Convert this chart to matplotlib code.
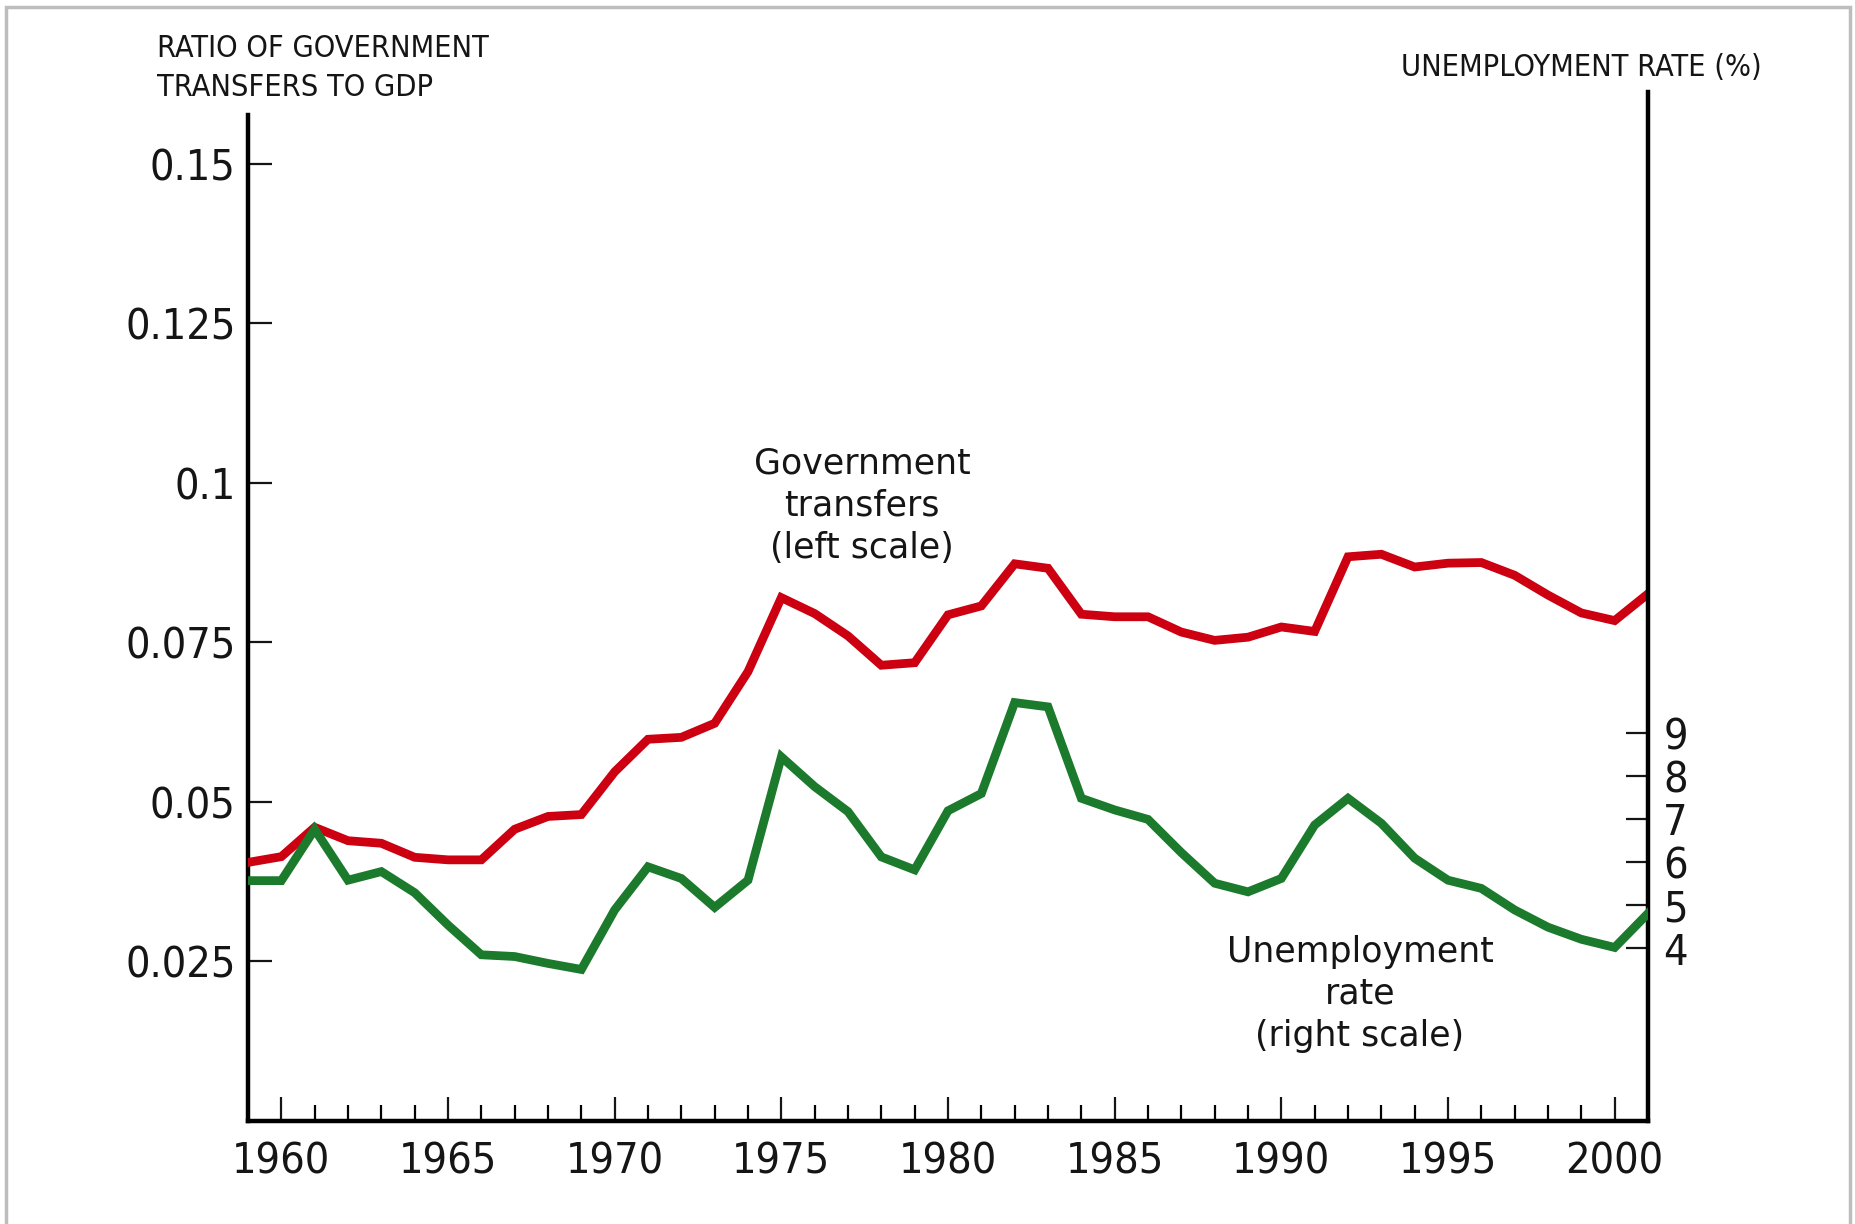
import matplotlib
matplotlib.use("Agg")
import matplotlib.pyplot as plt
from matplotlib.ticker import FixedLocator, NullFormatter
from matplotlib.patches import Rectangle
from matplotlib import font_manager as fm

years = list(range(1959, 2002))
transfers = [0.0405, 0.0414, 0.0460, 0.0439, 0.0435, 0.0413, 0.0409, 0.0409, 0.0457, 0.0477,
             0.0480, 0.0547, 0.0598, 0.0601, 0.0623, 0.0704, 0.0820, 0.0795, 0.0760, 0.0714,
             0.0718, 0.0793, 0.0807, 0.0873, 0.0866, 0.0794, 0.0790, 0.0790, 0.0766, 0.0753,
             0.0758, 0.0774, 0.0767, 0.0884, 0.0888, 0.0868, 0.0874, 0.0875, 0.0855, 0.0824,
             0.0796, 0.0784, 0.0826]
unemployment = [5.57, 5.57, 6.76, 5.58, 5.78, 5.29, 4.54, 3.85, 3.81, 3.65,
                3.51, 4.89, 5.89, 5.62, 4.95, 5.58, 8.44, 7.75, 7.17, 6.12,
                5.82, 7.19, 7.59, 9.70, 9.60, 7.48, 7.21, 6.99, 6.22, 5.51,
                5.31, 5.62, 6.86, 7.48, 6.90, 6.09, 5.58, 5.39, 4.89, 4.49,
                4.21, 4.02, 4.81]

left_ticks = [0.025, 0.05, 0.075, 0.1, 0.125, 0.15]
left_labels = ["0.025", "0.05", "0.075", "0.1", "0.125", "0.15"]
right_ticks = [4, 5, 6, 7, 8, 9]
x_major = [1960, 1965, 1970, 1975, 1980, 1985, 1990, 1995, 2000]
x_minor = list(range(1960, 2001))

# find a condensed sans if one is installed
condensed = any(f.name == "DejaVu Sans" and str(f.stretch) in ("condensed", "semi-condensed")
                for f in fm.fontManager.ttflist)
NARROW = fm.FontProperties(family="DejaVu Sans", stretch="condensed" if condensed else "normal")
ANNOT = ["DejaVu Sans"]
RED = "#cc0010"
GREEN = "#1b7a2b"
INK = "#151515"

W, H = 1855, 1224
fig = plt.figure(figsize=(W / 100, H / 100), dpi=100)
fig.patch.set_facecolor("white")

fig.add_artist(Rectangle((6 / W, -0.05), (1850 - 6) / W, 1.05 - 7 / H,
                         transform=fig.transFigure, fill=False,
                         edgecolor="#bdbdbd", linewidth=2.5))

ax = fig.add_axes([248 / W, (H - 1120.8) / H, (1648 - 248) / W, (1120.8 - 92) / H])
ax2 = ax.twinx()

ax.set_xlim(1959, 2001)
ax.set_ylim(0, 0.16125)
ax2.set_ylim(0, 23.86)

ax.plot(years, transfers, color=RED, linewidth=6.3, solid_joinstyle="miter", zorder=3)
ax2.plot(years, unemployment, color=GREEN, linewidth=6.3, solid_joinstyle="miter", zorder=3)

for a in (ax, ax2):
    a.patch.set_visible(False)
    for s in a.spines.values():
        s.set_linewidth(3.2)
        s.set_color("black")
    a.spines["top"].set_visible(False)

ax.spines["right"].set_visible(False)
ax2.spines["left"].set_visible(False)
ax2.spines["bottom"].set_visible(False)
ax.spines["left"].set_bounds(0, 0.1576)

tick_size = 31 if condensed else 29
ax.set_yticks(left_ticks)
ax.set_yticklabels(left_labels)
ax.tick_params(axis="y", direction="in", length=17, width=1.6, pad=9,
               labelsize=tick_size, colors=INK)
ax.xaxis.set_major_locator(FixedLocator(x_major))
ax.xaxis.set_minor_locator(FixedLocator(x_minor))
ax.xaxis.set_minor_formatter(NullFormatter())
ax.set_xticklabels([str(y) for y in x_major])
ax.tick_params(axis="x", which="major", direction="in", length=17, width=1.6,
               pad=14, labelsize=tick_size, colors=INK)
ax.tick_params(axis="x", which="minor", direction="in", length=11.5, width=1.6)

ax2.set_yticks(right_ticks)
ax2.set_yticklabels([str(t) for t in right_ticks])
ax2.tick_params(axis="y", direction="in", length=16, width=1.6, pad=11,
                labelsize=tick_size, colors=INK)

for lab in ax.get_xticklabels() + ax.get_yticklabels() + ax2.get_yticklabels():
    lab.set_fontproperties(NARROW)
    lab.set_fontsize(tick_size)

title_fp = NARROW.copy()
title_fp.set_size(22 if condensed else 20)
fig.text(157 / W, 1 - 68 / H, "RATIO OF GOVERNMENT\nTRANSFERS TO GDP",
         fontproperties=title_fp, color=INK, ha="left", va="center",
         linespacing=1.45)
fig.text(1762 / W, 1 - 68 / H, "UNEMPLOYMENT RATE (%)",
         fontproperties=title_fp, color=INK, ha="right", va="center")

fig.text(862 / W, 1 - 506 / H, "Government\ntransfers\n(left scale)",
         family=ANNOT, fontsize=25, color=INK, ha="center", va="center",
         linespacing=1.3)
fig.text(1360 / W, 1 - 994 / H, "Unemployment\nrate\n(right scale)",
         family=ANNOT, fontsize=25, color=INK, ha="center", va="center",
         linespacing=1.3)

fig.savefig("out.png", dpi=100, facecolor="white")
